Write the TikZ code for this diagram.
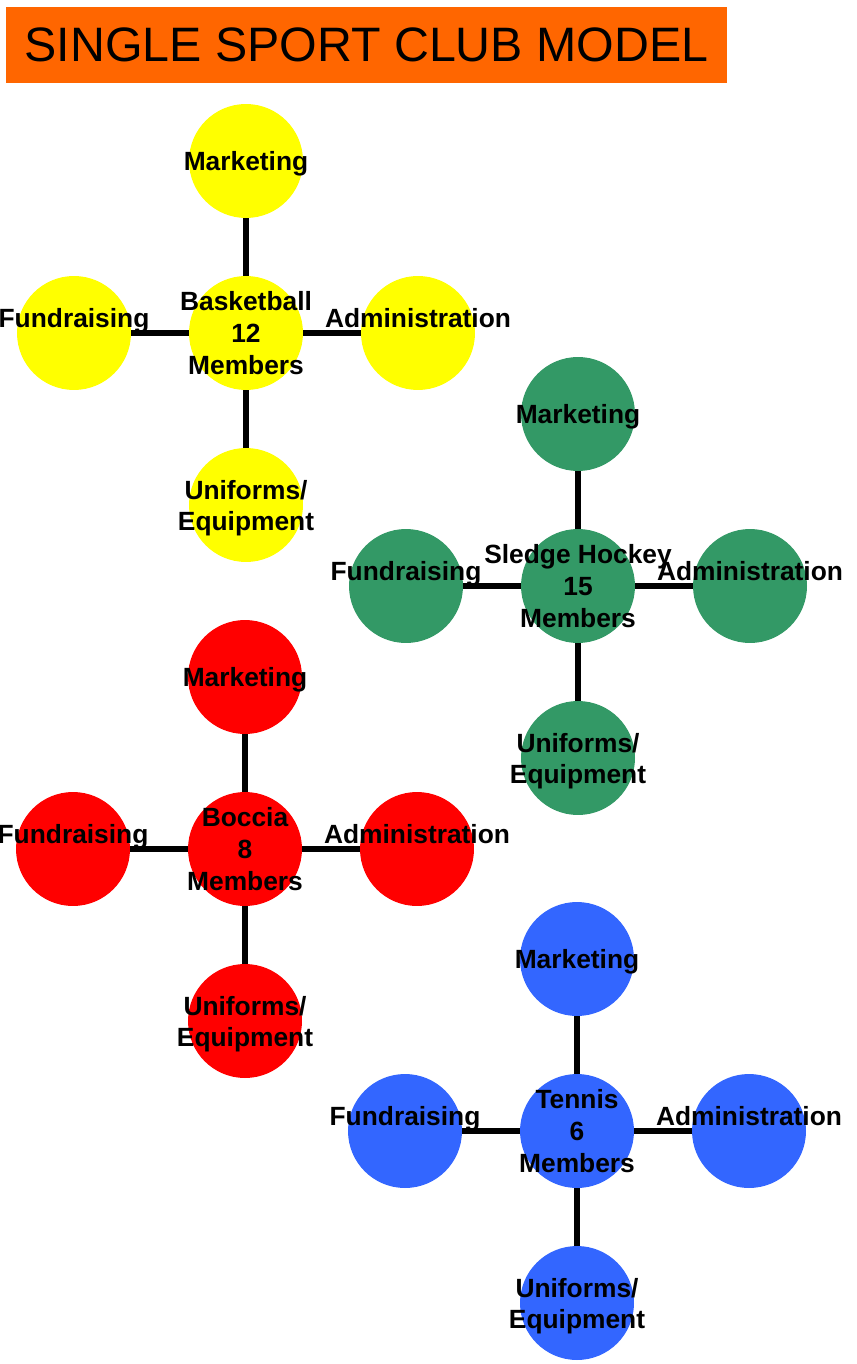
\documentclass[tikz,border=0pt]{standalone}
\usepackage{fontspec}
\setmainfont{Liberation Sans}
\usetikzlibrary{positioning}

\definecolor{headorange}{HTML}{FF6600}
\definecolor{clubyellow}{HTML}{FFFF00}
\definecolor{hockeygreen}{HTML}{339966}
\definecolor{tennisblue}{HTML}{3366FF}

\tikzset{
  area/.style={circle,minimum size=2.28cm,inner sep=0pt},
  link/.style={line width=3.2pt},
  lbl/.style={font=\fontsize{15}{18}\selectfont\bfseries,align=center,inner sep=0pt},
  headbox/.style={fill=headorange,minimum width=14.42cm,minimum height=1.52cm,inner sep=0pt,
    font=\fontsize{27.5}{32}\selectfont}
}

\begin{document}
\begin{tikzpicture}[x=0.02cm,y=-0.02cm]
   \useasboundingbox (0,0) rectangle (856,1364);
   \node[headbox] (head) at (366.5,45) {SINGLE SPORT CLUB MODEL};

   % one cross of five circles per sport
   \foreach \c/\x/\y/\col/\txt in {bask/246/333/clubyellow/{Basketball\\12\\Members},
       hock/578/586/hockeygreen/{Sledge Hockey\\15\\Members},
       bocc/245/849/red/{Boccia\\8\\Members},
       tenn/577/1131/tennisblue/{Tennis\\6\\Members}} {
      \node[area,fill=\col] (\c) at (\x,\y) {};
      \node[area,fill=\col] (\c-mkt) at (\x,\y-172) {};
      \node[area,fill=\col] (\c-uni) at (\x,\y+172) {};
      \node[area,fill=\col] (\c-fund) at (\x-172,\y) {};
      \node[area,fill=\col] (\c-adm) at (\x+172,\y) {};
      \draw[link] (\c) -- (\c-mkt);
      \draw[link] (\c) -- (\c-uni);
      \draw[link] (\c) -- (\c-fund);
      \draw[link] (\c) -- (\c-adm);
      \node[lbl] (\c-t) at (\c) {\txt};
      \node[lbl,yshift=-0.06cm] (\c-mkt-t) at (\c-mkt) {Marketing};
      \node[lbl,yshift=-0.06cm] (\c-uni-t) at (\c-uni) {Uniforms/\\Equipment};
      \node[lbl,yshift=0.24cm] (\c-fund-t) at (\c-fund) {Fundraising};
      \node[lbl,yshift=0.3cm] (\c-adm-t) at (\c-adm) {Administration};
   }
\end{tikzpicture}
\end{document}
